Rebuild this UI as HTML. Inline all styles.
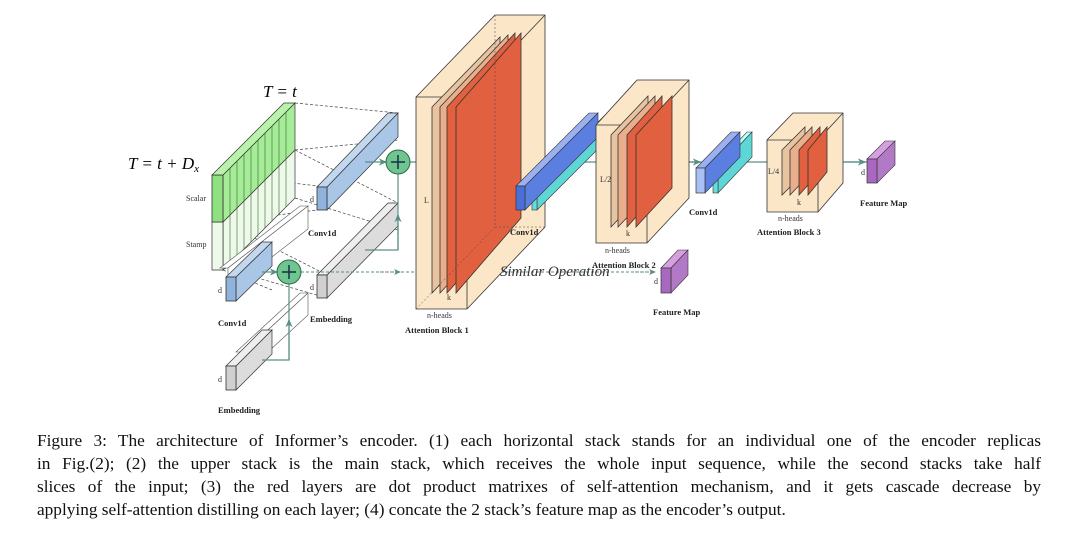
<!DOCTYPE html>
<html><head><meta charset="utf-8"><style>
html,body{margin:0;padding:0;background:#fff;width:1080px;height:533px;overflow:hidden}
svg{position:absolute;left:0;top:0}
.cap{position:absolute;left:37px;top:429px;width:1004px;font-family:"Liberation Serif",serif;font-size:17.3px;line-height:23px;color:#111}
.cap div{text-align:justify;text-align-last:justify;white-space:nowrap;overflow:visible}
.cap div.l{text-align-last:left}
.sm{font-family:"Liberation Serif",serif;font-size:8px;fill:#333}
.b{font-family:"Liberation Serif",serif;font-size:8.5px;font-weight:bold;fill:#222}
</style></head><body>
<svg width="1080" height="533" viewBox="0 0 1080 533">
<defs>
<marker id="ar" markerWidth="8" markerHeight="8" refX="6" refY="4" orient="auto"><path d="M0,1 L7,4 L0,7 L2,4z" fill="#5a8f86"/></marker>
</defs>
<g stroke="#444" stroke-width="0.7" stroke-dasharray="3,2" fill="none">
<line x1="295" y1="103" x2="398" y2="113"/><line x1="295" y1="150" x2="398" y2="140"/>
<line x1="223" y1="175" x2="327" y2="187"/><line x1="223" y1="222" x2="317" y2="210"/>
<line x1="295" y1="150" x2="398" y2="203"/><line x1="223" y1="222" x2="327" y2="275"/>
<line x1="295" y1="198" x2="398" y2="230"/>
<line x1="223" y1="268" x2="327" y2="298"/>
<line x1="223" y1="222" x2="272" y2="242"/><line x1="223" y1="270" x2="272" y2="290"/>
</g>
<polygon points="223,222 295,150 295,198 223,270" fill="#eef9ea" stroke="#333" stroke-width="0.7"/>
<polygon points="212,222 223,222 223,270 212,270" fill="#eef9ea" stroke="#333" stroke-width="0.7"/>
<polygon points="223,175 295,103 295,150 223,222" fill="#a6ec98" stroke="#333" stroke-width="0.7"/>
<polygon points="212,175 223,175 223,222 212,222" fill="#8fe07f" stroke="#333" stroke-width="0.8"/>
<polygon points="212,175 284,103 295,103 223,175" fill="#b8f2ab" stroke="#333" stroke-width="0.7"/>
<g stroke="#2f6a2a" stroke-width="0.6">
<line x1="230" y1="168" x2="230" y2="263"/><line x1="237" y1="161" x2="237" y2="256"/><line x1="244" y1="154" x2="244" y2="249"/><line x1="251" y1="147" x2="251" y2="242"/><line x1="258" y1="140" x2="258" y2="235"/><line x1="265" y1="133" x2="265" y2="228"/><line x1="272" y1="126" x2="272" y2="221"/><line x1="279" y1="119" x2="279" y2="214"/><line x1="286" y1="112" x2="286" y2="207"/>
</g>
<polygon points="220,268 300,206 308,206 228,268" fill="#fff" stroke="#555" stroke-width="0.6"/>
<polygon points="228,268 308,206 308,229 228,291" fill="#fff" stroke="#555" stroke-width="0.6"/>
<polygon points="236,352 300,293 308,293 244,352" fill="#fff" stroke="#555" stroke-width="0.6"/>
<polygon points="244,352 308,293 308,315 244,374" fill="#fff" stroke="#555" stroke-width="0.6"/>
<polygon points="327,187 398,113 398,137 327,210" fill="#a9c6e6" stroke="#333" stroke-width="0.7"/>
<polygon points="317,187 388,113 398,113 327,187" fill="#c3d8ef" stroke="#333" stroke-width="0.7"/>
<rect x="317" y="187" width="10" height="23" fill="#8fb3dd" stroke="#333" stroke-width="0.8"/>
<polygon points="327,275 398,203 398,226 327,298" fill="#dcdcdc" stroke="#333" stroke-width="0.7"/>
<polygon points="317,275 388,203 398,203 327,275" fill="#eee" stroke="#333" stroke-width="0.7"/>
<rect x="317" y="275" width="10" height="23" fill="#d0d0d0" stroke="#333" stroke-width="0.8"/>
<polygon points="236,277 272,242 272,266 236,301" fill="#a9c6e6" stroke="#333" stroke-width="0.7"/>
<polygon points="226,277 262,242 272,242 236,277" fill="#c3d8ef" stroke="#333" stroke-width="0.7"/>
<rect x="226" y="277" width="10" height="24" fill="#8fb3dd" stroke="#333" stroke-width="0.8"/>
<polygon points="236,366 272,330 272,354 236,390" fill="#dcdcdc" stroke="#333" stroke-width="0.7"/>
<polygon points="226,366 262,330 272,330 236,366" fill="#eee" stroke="#333" stroke-width="0.7"/>
<rect x="226" y="366" width="10" height="24" fill="#d0d0d0" stroke="#333" stroke-width="0.8"/>
<g stroke="#5a8f86" stroke-width="1.2" fill="none">
<line x1="365" y1="162" x2="386" y2="162" marker-end="url(#ar)"/>
<polyline points="398,174 398,250 365,250" />
<line x1="398" y1="250" x2="398" y2="215" marker-end="url(#ar)"/>
<line x1="262" y1="272" x2="277" y2="272" marker-end="url(#ar)"/>
<polyline points="289,284 289,360 262,360"/>
<line x1="289" y1="360" x2="289" y2="320" marker-end="url(#ar)"/>
<line x1="410" y1="162" x2="435" y2="162" marker-end="url(#ar)"/>
<line x1="455" y1="162" x2="880" y2="162"/>
<line x1="505" y1="162" x2="530" y2="162" marker-end="url(#ar)"/>
<line x1="680" y1="162" x2="700" y2="162" marker-end="url(#ar)"/>
<line x1="845" y1="162" x2="865" y2="162" marker-end="url(#ar)"/>
</g>
<g stroke="#5a8f86" stroke-width="1" stroke-dasharray="3,2" fill="none">
<line x1="301" y1="272" x2="655" y2="272"/>
<line x1="380" y1="272" x2="400" y2="272" marker-end="url(#ar)"/>
<line x1="635" y1="272" x2="655" y2="272" marker-end="url(#ar)"/>
</g>
<g><circle cx="398" cy="162" r="12" fill="#6fc48f" stroke="#2c6a45"/><path d="M391,162h14M398,155v14" stroke="#134" stroke-width="1.5"/></g>
<g><circle cx="289" cy="272" r="12" fill="#6fc48f" stroke="#2c6a45"/><path d="M282,272h14M289,265v14" stroke="#134" stroke-width="1.5"/></g>
<g stroke="#333" stroke-width="0.8">
<polygon points="416,97 495,15 545,15 545,227 467,309 416,309" fill="#fbe6c8"/>
<line x1="416" y1="97" x2="467" y2="97"/><line x1="467" y1="97" x2="545" y2="15"/><line x1="467" y1="97" x2="467" y2="309"/>
<polygon points="432,107 500,37 500,222 432,293" fill="#e8c3a0"/>
<polygon points="440,107 508,35 508,220 440,293" fill="#e9ae8c"/>
<polygon points="447,107 515,33 515,218 447,293" fill="#e0603f"/>
<polygon points="456,107 521,33 521,218 456,293" fill="#e0603f"/>
</g>
<g stroke="#444" stroke-width="0.5" stroke-dasharray="2,2" fill="none"><line x1="495" y1="15" x2="495" y2="227"/><line x1="495" y1="227" x2="416" y2="309"/><line x1="495" y1="227" x2="545" y2="227"/></g>
<polygon points="532,188 605,115 610,115 537,188" fill="#bff" stroke="#333" stroke-width="0.6"/>
<polygon points="537,188 610,115 610,137 537,210" fill="#5fd6d6" stroke="#333" stroke-width="0.6"/>
<rect x="532" y="188" width="5" height="22" fill="#66dddd" stroke="#333" stroke-width="0.6"/>
<polygon points="516,186 589,113 598,113 525,186" fill="#9bb0f0" stroke="#333" stroke-width="0.6"/>
<polygon points="525,186 598,113 598,137 525,210" fill="#5a7fe0" stroke="#333" stroke-width="0.6"/>
<rect x="516" y="186" width="9" height="24" fill="#4a6fd8" stroke="#333" stroke-width="0.7"/>
<g stroke="#333" stroke-width="0.8">
<polygon points="596,125 637,80 689,80 689,198 647,243 596,243" fill="#fbe6c8"/>
<line x1="596" y1="125" x2="647" y2="125"/><line x1="647" y1="125" x2="689" y2="80"/><line x1="647" y1="125" x2="647" y2="243"/>
<polygon points="611,135 648,96 648,188 611,227" fill="#e8c3a0"/>
<polygon points="618,135 655,96 655,188 618,227" fill="#e9ae8c"/>
<polygon points="627,135 662,96 662,188 627,227" fill="#e0603f"/>
<polygon points="636,135 672,96 672,188 636,227" fill="#e0603f"/>
</g>
<polygon points="713,168 747,132 752,132 718,168" fill="#bff" stroke="#333" stroke-width="0.6"/>
<polygon points="718,168 752,132 752,157 718,193" fill="#5fd6d6" stroke="#333" stroke-width="0.6"/>
<rect x="713" y="168" width="5" height="25" fill="#66dddd" stroke="#333" stroke-width="0.6"/>
<polygon points="696,168 731,132 740,132 705,168" fill="#9bb0f0" stroke="#333" stroke-width="0.6"/>
<polygon points="705,168 740,132 740,157 705,193" fill="#5a7fe0" stroke="#333" stroke-width="0.6"/>
<rect x="696" y="168" width="9" height="25" fill="#aac0f5" stroke="#333" stroke-width="0.7"/>
<g stroke="#333" stroke-width="0.8">
<polygon points="767,140 793,113 843,113 843,183 818,212 767,212" fill="#fbe6c8"/>
<line x1="767" y1="140" x2="818" y2="140"/><line x1="818" y1="140" x2="843" y2="113"/><line x1="818" y1="140" x2="818" y2="212"/>
<polygon points="782,150 805,127 805,172 782,195" fill="#e8c3a0"/>
<polygon points="790,150 812,127 812,172 790,195" fill="#e9ae8c"/>
<polygon points="799,150 820,127 820,172 799,195" fill="#e0603f"/>
<polygon points="808,150 827,127 827,172 808,195" fill="#e0603f"/>
</g>
<polygon points="867,159 885,141 895,141 877,159" fill="#d6a0e0" stroke="#333" stroke-width="0.6"/>
<polygon points="877,159 895,141 895,165 877,183" fill="#b27ac6" stroke="#333" stroke-width="0.6"/>
<rect x="867" y="159" width="10" height="24" fill="#a868c0" stroke="#333" stroke-width="0.7"/>
<polygon points="661,268 678,250 688,250 671,268" fill="#d6a0e0" stroke="#333" stroke-width="0.6"/>
<polygon points="671,268 688,250 688,275 671,293" fill="#b27ac6" stroke="#333" stroke-width="0.6"/>
<rect x="661" y="268" width="10" height="25" fill="#a868c0" stroke="#333" stroke-width="0.7"/>
<text x="263" y="97" font-family="Liberation Serif,serif" font-style="italic" font-size="17">T = t</text>
<text x="128" y="169" font-family="Liberation Serif,serif" font-style="italic" font-size="17">T = t + D<tspan font-size="11" dy="3">x</tspan></text>
<text class="sm" x="186" y="201">Scalar</text>
<text class="sm" x="186" y="247">Stamp</text>
<text class="sm" x="310" y="202">d</text><text class="sm" x="310" y="290">d</text>
<text class="sm" x="218" y="293">d</text><text class="sm" x="218" y="382">d</text>
<text class="b" x="308" y="236">Conv1d</text>
<text class="b" x="218" y="326">Conv1d</text>
<text class="b" x="310" y="322">Embedding</text>
<text class="b" x="218" y="413">Embedding</text>
<text class="sm" x="424" y="203">L</text>
<text class="sm" x="447" y="300">k</text>
<text class="sm" x="427" y="318">n-heads</text>
<text class="b" x="405" y="333">Attention Block 1</text>
<text class="b" x="510" y="235">Conv1d</text>
<text class="sm" x="600" y="182">L/2</text>
<text class="sm" x="626" y="236">k</text>
<text class="sm" x="605" y="253">n-heads</text>
<text class="b" x="592" y="268">Attention Block 2</text>
<text x="500" y="276" font-family="Liberation Serif,serif" font-style="italic" font-size="15" fill="#333">Similar Operation</text>
<text class="sm" x="654" y="284">d</text>
<text class="b" x="653" y="315">Feature Map</text>
<text class="b" x="689" y="215">Conv1d</text>
<text class="sm" x="768" y="174">L/4</text>
<text class="sm" x="797" y="205">k</text>
<text class="sm" x="778" y="221">n-heads</text>
<text class="b" x="757" y="235">Attention Block 3</text>
<text class="sm" x="861" y="175">d</text>
<text class="b" x="860" y="206">Feature Map</text>
</svg>
<div class="cap">
<div>Figure 3: The architecture of Informer’s encoder. (1) each horizontal stack stands for an individual one of the encoder replicas</div>
<div>in Fig.(2); (2) the upper stack is the main stack, which receives the whole input sequence, while the second stacks take half</div>
<div>slices of the input; (3) the red layers are dot product matrixes of self-attention mechanism, and it gets cascade decrease by</div>
<div class="l">applying self-attention distilling on each layer; (4) concate the 2 stack’s feature map as the encoder’s output.</div>
</div>
</body></html>
